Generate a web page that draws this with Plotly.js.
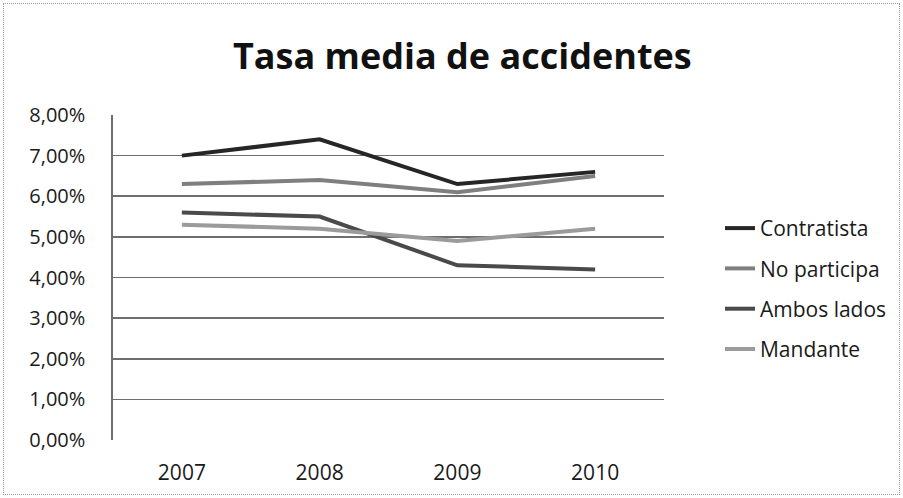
<!DOCTYPE html>
<html>
<head>
<meta charset="utf-8">
<script src="https://cdn.plot.ly/plotly-3.0.1.min.js"></script>
<style>
html,body{margin:0;padding:0;background:#fff;}
#wrap{position:relative;width:903px;height:498px;}
#chart{position:absolute;left:0;top:0;width:903px;height:498px;}
#frame{position:absolute;left:3px;top:3px;width:897px;height:492px;border:1px dotted #9a9a9a;box-sizing:border-box;pointer-events:none;}
</style>
</head>
<body>
<div id="wrap"><div id="chart"></div><div id="frame"></div></div>
<script>
const years = ['2007', '2008', '2009', '2010'];
const contratista = [0.070, 0.074, 0.063, 0.066];
const noParticipa = [0.063, 0.064, 0.061, 0.065];
const ambosLados = [0.056, 0.055, 0.043, 0.042];
const mandante = [0.053, 0.052, 0.049, 0.052];
const seriesNames = ['Contratista', 'No participa', 'Ambos lados', 'Mandante'];
const yTicks = [0, 0.01, 0.02, 0.03, 0.04, 0.05, 0.06, 0.07, 0.08];

const colors = ['#262626', '#7f7f7f', '#4a4a4a', '#9b9b9b'];
const data = [contratista, noParticipa, ambosLados, mandante].map((vals, i) => ({
  x: years, y: vals, name: seriesNames[i], type: 'scatter', mode: 'lines',
  line: {color: colors[i], width: 4}, legendgroup: 'g' + i
}));

const font = "'Open Sans', Carlito, Calibri, sans-serif";
const layout = {
  width: 903, height: 498,
  margin: {l: 113, r: 238, t: 115, b: 58},
  paper_bgcolor: 'rgba(0,0,0,0)', plot_bgcolor: '#fff',
  separators: ',.',
  font: {family: font, color: '#1a1a1a', size: 20},
  title: {text: '<b>Tasa media de accidentes</b>', font: {family: font, size: 36, color: '#111'},
          x: 0.512, xref: 'container', xanchor: 'center', y: 0.8876, yref: 'container', yanchor: 'middle'},
  xaxis: {type: 'category', range: [-0.5, 3.5], showgrid: false, zeroline: false, showline: false,
          ticks: '', tickfont: {size: 21, family: font, color: '#1a1a1a'}, ticklabelstandoff: 18, fixedrange: true},
  yaxis: {range: [0, 0.08], tickvals: yTicks, tickformat: '.2%', showgrid: true, gridcolor: '#6e6e6e', gridwidth: 1.7,
          zeroline: false, showline: true, linecolor: '#6e6e6e', linewidth: 1.7, ticks: '',
          tickfont: {size: 20, family: font, color: '#1a1a1a'}, ticklabelstandoff: 22, fixedrange: true},
  showlegend: true,
  legend: {x: 1.0996, xanchor: 'left', y: 0.714, yanchor: 'top', traceorder: 'grouped', tracegroupgap: 10,
           font: {size: 21, family: font, color: '#1a1a1a'}, itemwidth: 30, bgcolor: 'rgba(0,0,0,0)'}
};
Plotly.newPlot('chart', data, layout, {displayModeBar: false, staticPlot: true});
</script>
</body>
</html>
